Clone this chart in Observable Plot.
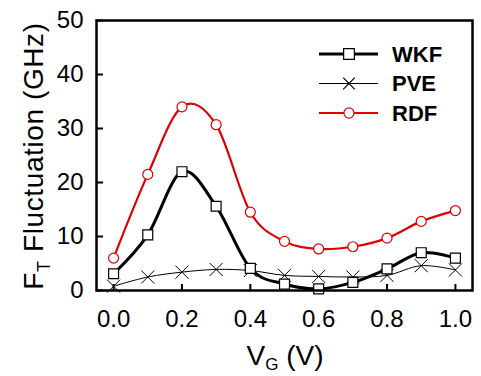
<!DOCTYPE html>
<html><head><meta charset="utf-8">
<script src="https://cdn.jsdelivr.net/npm/d3@7"></script>
<script src="https://cdn.jsdelivr.net/npm/@observablehq/plot@0.6"></script>
<style>body{margin:0;background:#fff}</style>
</head><body><div id="chart"></div>
<script>
const vg = [0.0, 0.1, 0.2, 0.3, 0.4, 0.5, 0.6, 0.7, 0.8, 0.9, 1.0];
const wkf = [3.1, 10.3, 22.0, 15.6, 4.1, 1.2, 0.3, 1.5, 4.0, 7.0, 6.0];
const pve = [0.8, 2.5, 3.4, 3.9, 3.7, 2.8, 2.6, 2.5, 2.8, 4.6, 3.8];
const rdf = [6.0, 21.5, 34.0, 30.7, 14.5, 9.1, 7.7, 8.1, 9.7, 12.8, 14.8];
const seriesNames = ["WKF", "PVE", "RDF"];
const xTicks = [0, 0.2, 0.4, 0.6, 0.8, 1.0];
const yTicks = [0, 10, 20, 30, 40, 50];

const W = 481, H = 376, mL = 96, mT = 20, mR = 9, mB = 86;
const red = "#dd0000";
const rows = s => vg.map((x, i) => ({x, y: s[i]}));
const dW = rows(wkf), dP = rows(pve), dR = rows(rdf);

const plot = Plot.plot({
  width: W, height: H,
  marginLeft: mL, marginTop: mT, marginRight: mR, marginBottom: mB,
  style: {fontFamily: "'Liberation Sans', Arial, sans-serif", fontSize: "24px", color: "#000", background: "#fff"},
  x: {domain: [-0.05, 1.05]},
  y: {domain: [0, 50]},
  marks: [
    Plot.axisX(xTicks, {tickSize: 0, tickPadding: 19, tickFormat: d3.format(".1f"), label: null, fontSize: 24}),
    Plot.axisY(yTicks, {tickSize: 0, tickPadding: 13, label: null, fontSize: 24}),
    Plot.tickX(xTicks, {x: d => d, stroke: "#000", strokeWidth: 2, insetTop: H - mT - mB - 6}),
    Plot.tickY(yTicks, {y: d => d, stroke: "#000", strokeWidth: 2, insetRight: W - mL - mR - 7}),
    Plot.line(dP, {x: "x", y: "y", curve: "cardinal", stroke: "#000", strokeWidth: 1}),
    Plot.line(dR, {x: "x", y: "y", curve: "cardinal", stroke: red, strokeWidth: 2.2}),
    Plot.line(dW, {x: "x", y: "y", curve: "cardinal", stroke: "#000", strokeWidth: 3}),
    Plot.dot(dP, {x: "x", y: "y", symbol: "times", r: 6, stroke: "#000", strokeWidth: 1}),
    Plot.dot(dR, {x: "x", y: "y", symbol: "circle", r: 5, stroke: red, fill: "#fff", strokeWidth: 1.2}),
    Plot.dot(dW, {x: "x", y: "y", symbol: "square", r: 5.6, stroke: "#000", fill: "#fff", strokeWidth: 1.2}),
    Plot.frame({stroke: "#000", strokeWidth: 2.5})
  ]
});
document.getElementById("chart").appendChild(plot);

// axis titles with subscripts + legend
const svg = d3.select(plot);
const ff = "'Liberation Sans', Arial, sans-serif";
const yt = svg.append("text").attr("transform", "translate(43,156) rotate(-90)")
  .attr("text-anchor", "middle").attr("font-family", ff).attr("font-size", 28)
  .attr("letter-spacing", 0.6).attr("fill", "#000");
yt.append("tspan").text("F");
yt.append("tspan").attr("font-size", 18).attr("dy", 7).text("T");
yt.append("tspan").attr("dy", -7).text(" Fluctuation (GHz)");

const xt = svg.append("text").attr("x", 285).attr("y", 365)
  .attr("text-anchor", "middle").attr("font-family", ff).attr("font-size", 28).attr("fill", "#000");
xt.append("tspan").text("V");
xt.append("tspan").attr("font-size", 17).attr("dy", 5).text("G");
xt.append("tspan").attr("dy", -5).text(" (V)");

const legend = [
  {name: seriesNames[0], sw: 3, stroke: "#000", sym: d3.symbolSquare, size: 115, fill: "#fff"},
  {name: seriesNames[1], sw: 1, stroke: "#000", sym: d3.symbolTimes, size: 90, fill: "none"},
  {name: seriesNames[2], sw: 2, stroke: red, sym: d3.symbolCircle, size: 80, fill: "#fff"}
];
legend.forEach((l, i) => {
  const y = 54 + i * 29.5;
  svg.append("line").attr("x1", 319).attr("x2", 378).attr("y1", y).attr("y2", y)
    .attr("stroke", l.stroke).attr("stroke-width", l.sw);
  svg.append("path").attr("d", d3.symbol(l.sym, l.size)()).attr("transform", `translate(349,${y})`)
    .attr("stroke", l.stroke).attr("fill", l.fill).attr("stroke-width", 1.2);
  svg.append("text").attr("x", 392).attr("y", y).attr("dy", "0.36em").attr("text-anchor", "start")
    .attr("font-family", ff).attr("font-size", 22).attr("font-weight", "bold").attr("fill", "#000").text(l.name);
});
</script>
</body></html>
